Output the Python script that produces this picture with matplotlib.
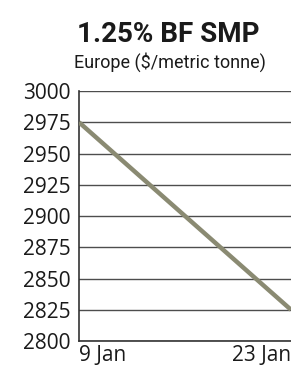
import matplotlib
matplotlib.use("Agg")
import matplotlib.pyplot as plt

# data
dates = ["9 Jan", "23 Jan"]
prices = [2975, 2825]
y_ticks = [2800, 2825, 2850, 2875, 2900, 2925, 2950, 2975, 3000]

plt.rcParams['font.family'] = ['Roboto', 'DejaVu Sans']

fig = plt.figure(figsize=(2.91, 3.67), dpi=100)
ax = fig.add_axes([0.2715, 0.0708, 0.7285, 0.6812])

x = list(range(len(dates)))
ax.plot(x, prices, color="#8a8a72", lw=3.2, solid_capstyle="butt", zorder=3)

ax.set_xlim(0, 1)
ax.set_ylim(2800, 3000)
ax.set_yticks(y_ticks)
ax.set_yticklabels([str(t) for t in y_ticks], fontsize=15, color="#1a1a1a",
                   family=['Open Sans', 'DejaVu Sans'])
ax.tick_params(axis="y", length=0, pad=6)
ax.grid(axis="y", color="#4d4d4d", lw=1.0, zorder=1)

ax.set_xticks(x)
ax.set_xticklabels(dates, fontsize=15, color="#1a1a1a", family=['Open Sans', 'DejaVu Sans'])
ax.get_xticklabels()[0].set_ha("left")
ax.get_xticklabels()[1].set_ha("right")
ax.tick_params(axis="x", length=0, pad=3)

for s in ["top", "right"]:
    ax.spines[s].set_visible(False)
for s in ["left", "bottom"]:
    ax.spines[s].set_color("#333333")
    ax.spines[s].set_linewidth(1.2)

fig.text(0.578, 0.907, "1.25% BF SMP", ha="center", va="center", fontsize=20,
         fontweight="bold", color="#1a1a1a")
fig.text(0.584, 0.831, "Europe ($/metric tonne)", ha="center", va="center",
         fontsize=13, color="#1a1a1a")

fig.savefig("out.png", dpi=100)
